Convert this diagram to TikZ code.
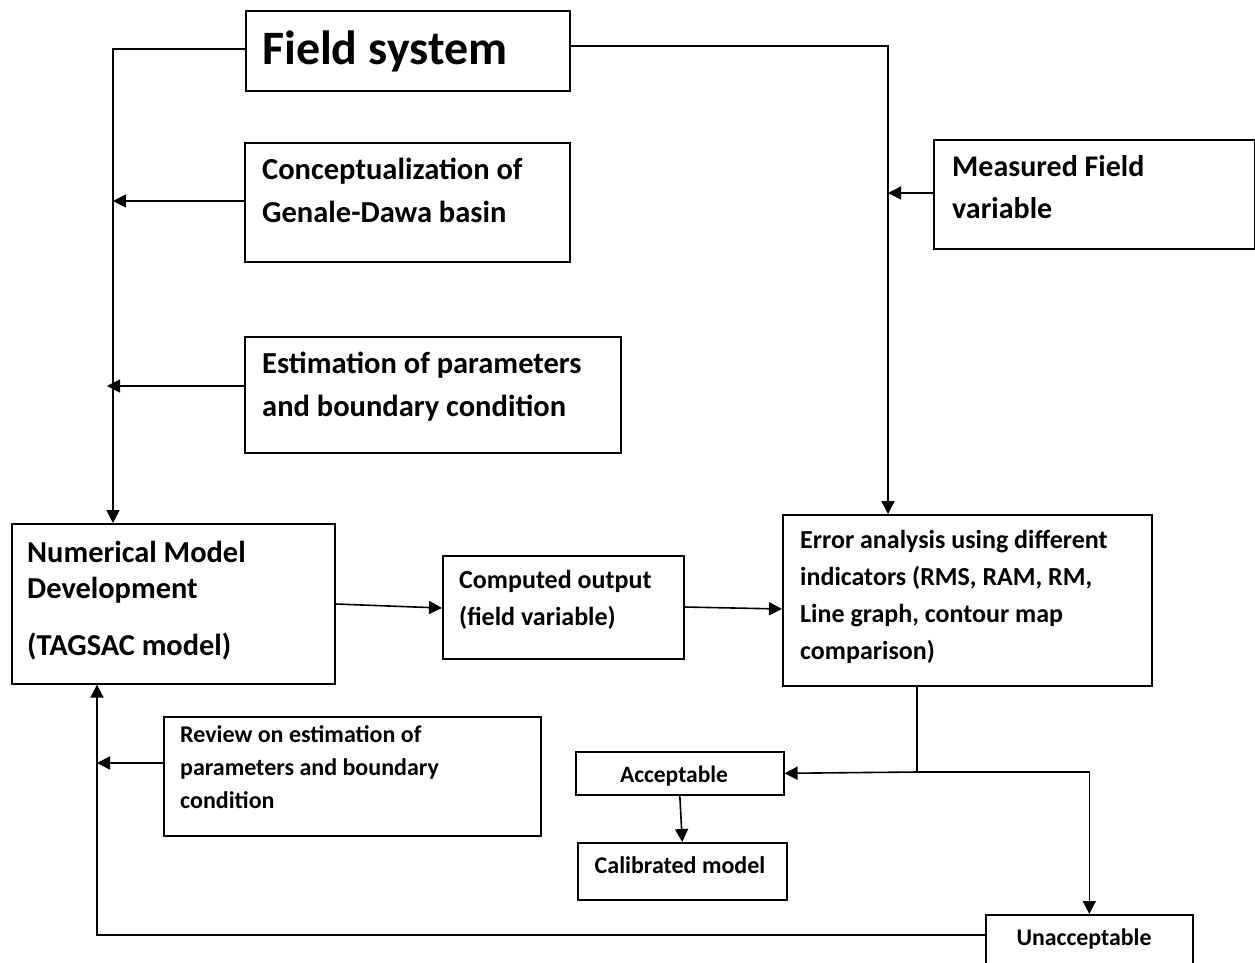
\documentclass[tikz,border=0pt]{standalone}
\usepackage{fontspec}
\setmainfont{Carlito}
\usetikzlibrary{arrows.meta,calc}
\tikzset{
  box/.style={draw=black, line width=1.6pt, inner sep=0pt, anchor=north west},
  txt/.style={inner sep=0pt, anchor=base west, font=\bfseries},
  ctxt/.style={inner sep=0pt, anchor=base, font=\bfseries},
  conn/.style={line width=1.6pt},
  arr/.style={line width=1.6pt, -{Triangle[length=13pt,width=13pt]}},
}
\newcommand{\fsz}[2]{\fontsize{#1}{#2}\selectfont}
\begin{document}
\begin{tikzpicture}[x=1pt,y=-1pt]
\useasboundingbox[fill=white] (0,0) rectangle (1255,962);
% boxes
\node[box, minimum width=324, minimum height=80] (fs) at (245,10) {};
\node[box, minimum width=325, minimum height=119] (con) at (244,142) {};
\node[box, minimum width=376, minimum height=116] (est) at (244,336) {};
\node[box, minimum width=321, minimum height=109] (meas) at (933,139) {};
\node[box, minimum width=323, minimum height=160] (num) at (11,523) {};
\node[box, minimum width=241, minimum height=103] (comp) at (442,555) {};
\node[box, minimum width=369, minimum height=171] (err) at (782,514) {};
\node[box, minimum width=377, minimum height=119] (rev) at (163,716) {};
\node[box, minimum width=208, minimum height=43] (acc) at (575,751) {};
\node[box, minimum width=209, minimum height=57] (cal) at (577,842) {};
\node[box, minimum width=207, minimum height=60] (unacc) at (985,914) {};
% texts
\node[txt] (tfs) at (262,64) {\fsz{48}{58}Field system};
\node[txt] (tcon) at (262,179) {\fsz{30.5}{43}\vtop{\hbox{Conceptualization of}\hbox{Genale-Dawa basin}}};
\node[txt] (test) at (262,373) {\fsz{30.5}{43}\vtop{\hbox{Estimation of parameters}\hbox{and boundary condition}}};
\node[txt] (tmeas) at (952,176) {\fsz{30}{42}\vtop{\hbox{Measured Field}\hbox{variable}}};
\node[txt] (tnum) at (27,562) {\fsz{30.4}{36}\vtop{\hbox{Numerical Model}\hbox{Development}}};
\node[txt] (tnum2) at (27,655) {\fsz{30.4}{36}(TAGSAC model)};
\node[txt] (tcomp) at (459,588) {\fsz{26}{37}\vtop{\hbox{Computed output}\hbox{(field variable)}}};
\node[txt] (terr) at (800,548) {\fsz{26}{37}\vtop{\hbox{Error analysis using different}\hbox{indicators (RMS, RAM, RM,}\hbox{Line graph, contour map}\hbox{comparison)}}};
\node[txt] (trev) at (180,742) {\fsz{24}{33}\vtop{\hbox{Review on estimation of}\hbox{parameters and boundary}\hbox{condition}}};
\node[ctxt] (tacc) at (674,782) {\fsz{23.5}{26}Acceptable};
\node[ctxt] (tcal) at (680,873) {\fsz{24}{26}Calibrated model};
\node[ctxt] (tunacc) at (1084,945) {\fsz{23.8}{26}Unacceptable};
% helper coordinates
\coordinate (L) at (113,49);
\coordinate (R) at (888,46);
\coordinate (D) at (917,772);
\coordinate (B) at (97,935);
% connectors
\draw[arr] (fs.west |- L) -- (L) -- (L |- num.north);
\draw[arr] (fs.east |- R) -- (R) -- (R |- err.north);
\draw[arr] (con.west |- 0,201) -- (L |- 0,201);
\draw[arr] (est.west |- 0,386) -- (107,386);
\draw[arr] (meas.west |- 0,193) -- (R |- 0,193);
\draw[arr] (num.east |- 0,604) -- (comp.west |- 0,608);
\draw[arr] (comp.east |- 0,607) -- (err.west |- 0,609);
\draw[conn] (D |- err.south) -- (D);
\draw[arr] (D) -- (acc.east);
\draw[arr] (D) -- (unacc.north |- D) -- (unacc.north);
\draw[arr] (acc.south) -- (cal.north);
\draw[arr] (unacc.west |- B) -- (B) -- (B |- num.south);
\draw[arr] (rev.west |- 0,763) -- (B |- 0,763);
\end{tikzpicture}
\end{document}
